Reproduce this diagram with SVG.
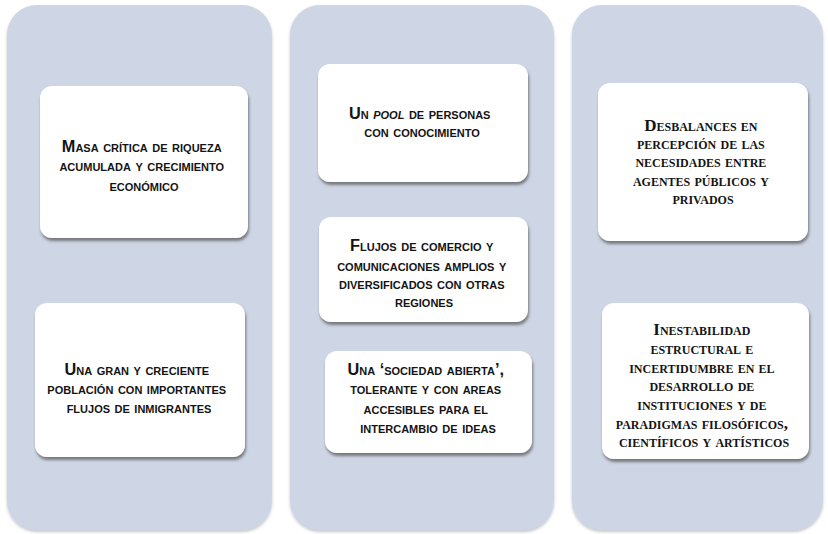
<svg xmlns="http://www.w3.org/2000/svg" width="828" height="534" viewBox="0 0 828 534">
  <defs>
    <filter id="cardShadow" x="-10%" y="-10%" width="125%" height="130%">
      <feDropShadow dx="1" dy="3" stdDeviation="1.6" flood-color="#5a5a5a" flood-opacity="0.75"/>
    </filter>
    <filter id="colShadow" x="-5%" y="-5%" width="110%" height="110%">
      <feDropShadow dx="0" dy="2" stdDeviation="1.5" flood-color="#8a8f99" flood-opacity="0.5"/>
    </filter>
  </defs>
  <style>
    .col { fill: #ced6e6; }
    .card { fill: #ffffff; filter: url(#cardShadow); }
    .t { font-weight: bold; font-variant: small-caps; text-anchor: middle; fill: #141414; }
    .sans { font-family: "Liberation Sans", Arial, sans-serif; font-size: 16.3px; }
    .serif { font-family: "Liberation Serif", "Times New Roman", serif; font-size: 17px; }
  </style>

  <rect width="828" height="534" fill="#ffffff"/>

  <!-- three column panels -->
  <g id="columns" filter="url(#colShadow)">
    <rect class="col" x="7" y="5" width="265" height="525" rx="30"/>
    <rect class="col" x="290" y="5" width="264" height="525" rx="30"/>
    <rect class="col" x="572" y="5" width="251" height="525" rx="30"/>
  </g>

  <!-- column 1 -->
  <g id="masa-critica">
    <rect class="card" x="40" y="86" width="208" height="152" rx="12"/>
    <text class="t sans">
      <tspan x="144" y="152">Masa crítica de riqueza</tspan>
      <tspan x="144" y="171">acumulada y crecimiento</tspan>
      <tspan x="144" y="191">económico</tspan>
    </text>
  </g>
  <g id="poblacion">
    <rect class="card" x="35" y="303" width="210" height="154" rx="12"/>
    <text class="t sans">
      <tspan x="139" y="375">Una gran y creciente</tspan>
      <tspan x="139" y="394">población con importantes</tspan>
      <tspan x="139" y="413">flujos de inmigrantes</tspan>
    </text>
  </g>

  <!-- column 2 -->
  <g id="pool">
    <rect class="card" x="318" y="64" width="210" height="118" rx="12"/>
    <text class="t sans">
      <tspan x="422" y="119">Un <tspan font-style="italic">pool</tspan> de personas</tspan>
      <tspan x="422" y="137">con conocimiento</tspan>
    </text>
  </g>
  <g id="flujos-comercio">
    <rect class="card" x="319" y="217" width="209" height="105" rx="12"/>
    <text class="t sans">
      <tspan x="424" y="251">Flujos de comercio y</tspan>
      <tspan x="424" y="271">comunicaciones amplios y</tspan>
      <tspan x="424" y="289">diversificados con otras</tspan>
      <tspan x="424" y="307">regiones</tspan>
    </text>
  </g>
  <g id="sociedad-abierta">
    <rect class="card" x="325" y="351" width="207" height="102" rx="12"/>
    <text class="t sans">
      <tspan x="428" y="375">Una ‘sociedad abierta’,</tspan>
      <tspan x="428" y="394">tolerante y con areas</tspan>
      <tspan x="428" y="414">accesibles para el</tspan>
      <tspan x="428" y="433">intercambio de ideas</tspan>
    </text>
  </g>

  <!-- column 3 -->
  <g id="desbalances">
    <rect class="card" x="598" y="83" width="210" height="158" rx="12"/>
    <text class="t serif">
      <tspan x="703" y="131">Desbalances en</tspan>
      <tspan x="703" y="149">percepción de las</tspan>
      <tspan x="703" y="167">necesidades entre</tspan>
      <tspan x="703" y="186">agentes públicos y</tspan>
      <tspan x="703" y="204">privados</tspan>
    </text>
  </g>
  <g id="inestabilidad">
    <rect class="card" x="602" y="303" width="207" height="156" rx="12"/>
    <text class="t serif">
      <tspan x="704" y="335">Inestabilidad</tspan>
      <tspan x="704" y="354">estructural e</tspan>
      <tspan x="704" y="373">incertidumbre en el</tspan>
      <tspan x="704" y="391">desarrollo de</tspan>
      <tspan x="704" y="410">instituciones y de</tspan>
      <tspan x="704" y="429">paradigmas filosóficos,</tspan>
      <tspan x="704" y="447">científicos y artísticos</tspan>
    </text>
  </g>
</svg>
